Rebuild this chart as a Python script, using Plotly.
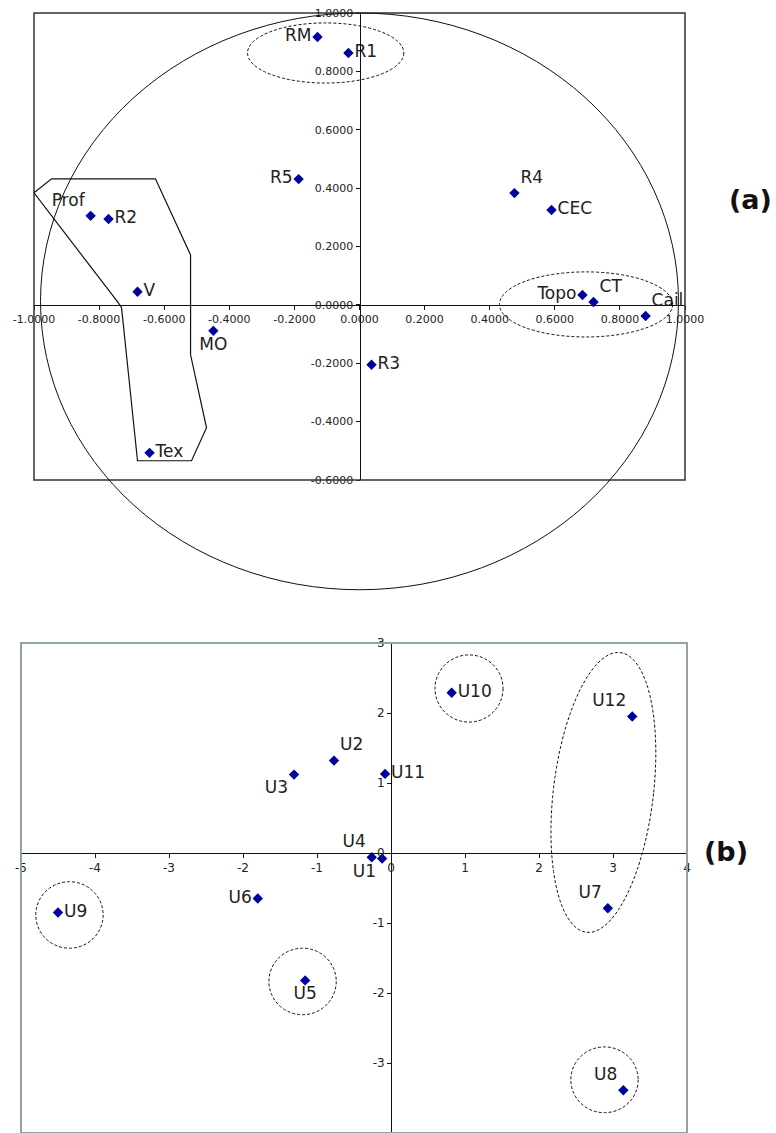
import numpy as np
import plotly.graph_objects as go

W, H = 776, 1133

# ---------------- Panel (a) data ----------------
labels_a = ["RM", "R1", "R5", "Prof", "R2", "V", "MO", "Tex", "R3", "R4", "CEC", "Topo", "CT", "Cail"]
x_a = [-0.129, -0.034, -0.187, -0.826, -0.771, -0.682, -0.449, -0.645, 0.037, 0.476, 0.590, 0.685, 0.719, 0.879]
y_a = [0.918, 0.863, 0.431, 0.305, 0.294, 0.045, -0.089, -0.507, -0.205, 0.383, 0.325, 0.034, 0.010, -0.038]
pos_a = ["middle left", "middle right", "middle left", "top left", "middle right", "middle right",
         "bottom center", "middle right", "middle right", "top right", "middle right", "middle left",
         "top right", "top right"]
ticks_a_x = [-1.0, -0.8, -0.6, -0.4, -0.2, 0.0, 0.2, 0.4, 0.6, 0.8, 1.0]
ticks_a_y = [-0.6, -0.4, -0.2, 0.0, 0.2, 0.4, 0.6, 0.8, 1.0]

# group outline (Prof, R2, V, Tex) polygon vertices
poly_x = [-1.0, -0.946, -0.627, -0.519, -0.519, -0.470, -0.516, -0.682, -0.731, -0.743]
poly_y = [0.384, 0.432, 0.432, 0.171, -0.171, -0.421, -0.534, -0.534, -0.010, 0.010]

# ---------------- Panel (b) data ----------------
labels_b = ["U1", "U2", "U3", "U4", "U5", "U6", "U7", "U8", "U9", "U10", "U11", "U12"]
x_b = [-0.12, -0.77, -1.31, -0.26, -1.16, -1.80, 2.93, 3.14, -4.50, 0.82, -0.08, 3.26]
y_b = [-0.08, 1.32, 1.12, -0.06, -1.82, -0.65, -0.79, -3.39, -0.85, 2.29, 1.13, 1.95]
pos_b = ["bottom left", "top right", "bottom left", "top left", "bottom center", "middle left",
         "top left", "top left", "middle right", "middle right", "middle right", "top left"]
ticks_b_x = [-5, -4, -3, -2, -1, 0, 1, 2, 3, 4]
ticks_b_y = [-4, -3, -2, -1, 0, 1, 2, 3]

# ---------------- layout geometry ----------------
xr_a, yr_a = [-1.0, 1.0], [-0.6, 1.0]
xd_a = [34 / W, 685 / W]
yd_a = [1 - 480 / H, 1 - 13 / H]
xr_b, yr_b = [-5, 4], [-4, 3]
xd_b = [21 / W, 687 / W]
yd_b = [0.0, 1 - 643 / H]


def frac(v, r, d):
    return d[0] + (v - r[0]) / (r[1] - r[0]) * (d[1] - d[0])


MARK = "#00009C"
TXT = "#222222"
FONT = "DejaVu Sans"

fig = go.Figure()
fig.add_trace(go.Scatter(
    x=x_a, y=y_a, text=labels_a, mode="markers+text", textposition=pos_a,
    marker=dict(symbol="diamond", size=8, color=MARK),
    textfont=dict(family=FONT, size=17, color=TXT), cliponaxis=False,
    xaxis="x", yaxis="y", showlegend=False, hoverinfo="skip"))
fig.add_trace(go.Scatter(
    x=x_b, y=y_b, text=labels_b, mode="markers+text", textposition=pos_b,
    marker=dict(symbol="diamond", size=8, color=MARK),
    textfont=dict(family=FONT, size=17, color=TXT), cliponaxis=False,
    xaxis="x2", yaxis="y2", showlegend=False, hoverinfo="skip"))

axcommon = dict(showgrid=False, zeroline=False, showline=True, linecolor="#111111", linewidth=1,
                ticks="outside", ticklen=4, tickcolor="#111111", tickangle=0, anchor="free",
                automargin=False,
                tickfont=dict(family=FONT, size=11, color=TXT), fixedrange=True)

fig.update_layout(
    width=W, height=H, margin=dict(l=0, r=0, t=0, b=0, pad=0, autoexpand=False),
    paper_bgcolor="white", plot_bgcolor="white", showlegend=False,
    xaxis=dict(axcommon, domain=xd_a, range=xr_a, tickvals=ticks_a_x,
               ticktext=[f"{v:.4f}" for v in ticks_a_x],
               position=frac(0.0, yr_a, yd_a)),
    yaxis=dict(axcommon, domain=yd_a, range=yr_a, tickvals=ticks_a_y,
               ticktext=[f"{v:.4f}" for v in ticks_a_y],
               position=frac(0.0, xr_a, xd_a)),
    xaxis2=dict(axcommon, domain=xd_b, range=xr_b, tickvals=ticks_b_x,
                ticktext=[str(v) for v in ticks_b_x], tickfont=dict(family=FONT, size=12, color=TXT),
                position=frac(0.0, yr_b, yd_b)),
    yaxis2=dict(axcommon, domain=yd_b, range=yr_b, tickvals=ticks_b_y,
                ticktext=[str(v) for v in ticks_b_y], tickfont=dict(family=FONT, size=12, color=TXT),
                position=frac(0.0, xr_b, xd_b)),
)

shapes = []
# frames
shapes.append(dict(type="rect", xref="x domain", yref="y domain", x0=0, x1=1, y0=0, y1=1,
                   line=dict(color="#333333", width=1.5)))
shapes.append(dict(type="rect", xref="x2 domain", yref="y2 domain", x0=0, x1=1, y0=0, y1=1,
                   line=dict(color="#8fa3a1", width=2)))

# big correlation circle in (a), drawn in paper coords so it can extend past the frame
cx, cy, rx, ry = 0.0, 0.012, 0.98, 0.988
shapes.append(dict(type="circle", xref="paper", yref="paper",
                   x0=frac(cx - rx, xr_a, xd_a), x1=frac(cx + rx, xr_a, xd_a),
                   y0=frac(cy - ry, yr_a, yd_a), y1=frac(cy + ry, yr_a, yd_a),
                   line=dict(color="#111111", width=1)))

dash = "3px,2px"
# ellipses in (a)
shapes.append(dict(type="circle", xref="x", yref="y", x0=-0.344, x1=0.136, y0=0.760, y1=0.966,
                   line=dict(color="#111111", width=1, dash=dash)))
shapes.append(dict(type="circle", xref="x", yref="y", x0=0.430, x1=0.962, y0=-0.110, y1=0.113,
                   line=dict(color="#111111", width=1, dash=dash)))
# polygon in (a)
path = "M " + " L ".join(f"{px},{py}" for px, py in zip(poly_x, poly_y)) + " Z"
shapes.append(dict(type="path", xref="x", yref="y", path=path, line=dict(color="#111111", width=1.2)))

# circles in (b)
for (x0, x1, y0, y1) in [(0.595, 1.514, 1.87, 2.83), (-4.80, -3.89, -1.36, -0.41),
                         (-1.65, -0.74, -2.31, -1.36), (2.43, 3.34, -3.71, -2.77)]:
    shapes.append(dict(type="circle", xref="x2", yref="y2", x0=x0, x1=x1, y0=y0, y1=y1,
                       line=dict(color="#111111", width=1, dash=dash)))
# tilted ellipse around U12 / U7 in (b)
ecx, ecy, ebx, eay, shear = 2.87, 0.865, 0.68, 2.0, 0.10
t = np.linspace(0, 2 * np.pi, 90)
ey = ecy + eay * np.sin(t)
ex = ecx + ebx * np.cos(t) + shear * (ey - ecy)
epath = "M " + " L ".join(f"{a:.4f},{b:.4f}" for a, b in zip(ex, ey)) + " Z"
shapes.append(dict(type="path", xref="x2", yref="y2", path=epath,
                   line=dict(color="#111111", width=1, dash=dash)))

fig.update_layout(shapes=shapes)

fig.add_annotation(text="<b>(a)</b>", xref="paper", yref="paper", x=750 / W, y=1 - 199 / H,
                   xanchor="center", yanchor="middle", showarrow=False,
                   font=dict(family=FONT, size=27, color="#111111"))
fig.add_annotation(text="<b>(b)</b>", xref="paper", yref="paper", x=726 / W, y=1 - 851 / H,
                   xanchor="center", yanchor="middle", showarrow=False,
                   font=dict(family=FONT, size=27, color="#111111"))

fig.write_html("out.html")
